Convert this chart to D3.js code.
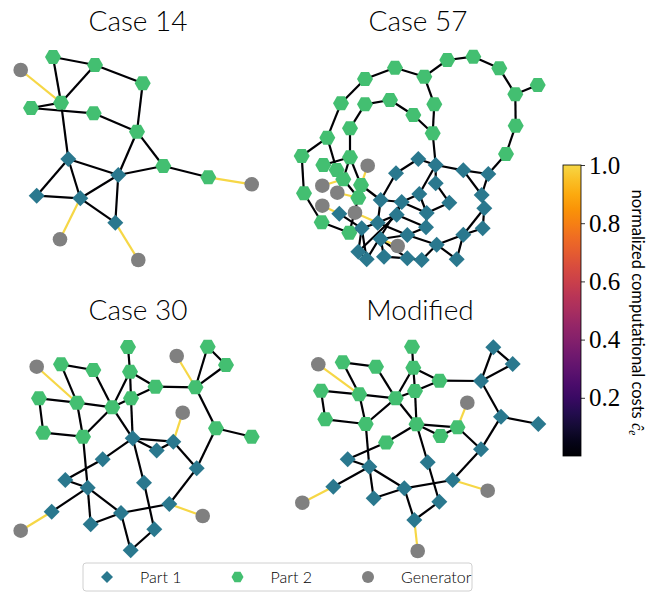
<!DOCTYPE html>
<html>
<head>
<meta charset="utf-8">
<script src="https://cdn.jsdelivr.net/npm/d3@7"></script>
<style>
  body { margin: 0; background: #fff; }
  text { font-family: Lato, "Noto Sans", sans-serif; }
</style>
</head>
<body>
<svg id="chart" width="668" height="593"></svg>
<script>
// ---------- Case 14 ----------
const c14Part1 = [["10",68.3,119],["11",118.3,135],["12",36.7,155.7],["13",80.3,158.3],["14",115.3,182.7]];
const c14Part2 = [["1",53,17],["2",95,25],["3",142.7,43.3],["4",31,68],["5",61,62.7],["6",93.7,73.3],
                  ["7",137,91.7],["8",163.3,126],["9",208.3,137.3]];
const c14Gen = [["g1",20.7,30],["g2",251.7,144.3],["g3",60,199.3],["g4",138.3,220]];
const c14Lines = [["1","5"],["1","2"],["2","5"],["2","3"],["3","7"],["4","5"],["4","6"],["6","7"],
                  ["7","8"],["7","11"],["8","11"],["8","9"],["5","10"],["10","11"],["10","12"],
                  ["10","13"],["12","13"],["13","11"],["13","14"],["11","14"]];
const c14GenLines = [["g1","5"],["g2","9"],["g3","13"],["g4","14"]];

// ---------- Case 57 ----------
const c57Part2 = [["n1",162.3,20],["n2",188.3,16.7],["n3",214.3,28.3],["n4",252.7,45],["n5",230.3,54.3],
  ["n6",230.7,85.7],["n7",221,114],["n8",139.3,36.7],["n9",110,27.7],["n10",80,39],["n11",56,63.3],
  ["n12",149.3,64.3],["n13",147.7,93.3],["n14",105,60],["n15",80,64.3],["n16",128.3,75],["n17",65,88.3],
  ["n18",42.3,97.7],["n19",16.7,116],["n20",65,117.3],["n21",38.3,125],["n22",51.7,130],["n23",58.3,139.3],
  ["n24",76,145],["n25",73.3,157.7],["n26",19,153.3],["n27",36.7,182.3],["n28",64.3,192.7]];
const c57Part1 = [["b1",133.3,119],["b2",150.7,125],["b3",178.3,130.3],["b4",203.3,134],["b5",111,133.3],
  ["b6",150.7,143.3],["b7",134.3,154],["b8",164.3,162.7],["b9",196.7,155],["b10",199.3,168.3],
  ["b11",95.7,160],["b12",116.7,162],["b13",111.7,174.7],["b14",141.7,173],["b15",54.3,173.7],
  ["b16",92.7,182.7],["b17",141,187.3],["b18",197.7,188.3],["b19",76.7,188.3],["b20",178.3,194.7],
  ["b21",122.3,195],["b22",95.7,199],["b23",151.7,204.7],["b24",73.3,211.7],["b25",81.7,219.3],
  ["b26",99,216.7],["b27",122.3,218.3],["b28",136.7,220],["b29",171.7,219.3]];
const c57Gen = [["g1",82.7,125.7],["g2",37.3,145.7],["g3",52.3,152.7],["g4",37.3,165.7],
  ["g5",70,172.7],["g6",112.7,206]];
const c57Lines = [["n1","n2"],["n2","n3"],["n3","n5"],["n4","n5"],["n5","n6"],["n6","n7"],["n7","b4"],
  ["n1","n8"],["n8","n9"],["n9","n10"],["n10","n11"],["n11","n18"],["n18","n19"],["n19","n26"],
  ["n26","n27"],["n27","n28"],["n28","b19"],["n8","n12"],["n12","n13"],["n13","b2"],["n13","n16"],
  ["n16","n14"],["n14","n15"],["n15","n17"],["n17","n20"],["n18","n22"],["n20","n21"],["n20","n23"],
  ["n20","n24"],["n22","n23"],["n23","n25"],["n25","n28"],["n24","b11"],
  ["b1","b2"],["b1","b5"],["b2","b3"],["b3","b4"],["b2","b6"],["b2","b7"],["b6","b8"],["b7","b12"],
  ["b7","b14"],["b8","b14"],["b3","b9"],["b4","b9"],["b9","b10"],["b10","b18"],["b10","b20"],
  ["b18","b20"],["b20","b23"],["b20","b29"],["b23","b29"],["b14","b17"],["b17","b21"],["b21","b23"],
  ["b23","b28"],["b12","b14"],["b13","b17"],["b5","b11"],["b11","b12"],["b12","b13"],["b11","b16"],
  ["b13","b16"],["b16","b19"],["b15","b19"],["b19","b24"],["b19","b25"],["b24","b25"],["b22","b26"],
  ["b26","b27"],["b27","b28"],["b21","b22"],["b16","b21"],["b24","b13"],["b25","b12"],["b22","b27"]];
const c57GenLines = [["g1","n24"],["g2","n23"],["g3","n25"],["g4","b15"],["g5","b16"],["g6","b22"]];

// ---------- Case 30 ----------
const c30Part2 = [["a",128,17],["b",207.7,16.7],["c",61,34.3],["d",93.3,40],["e",226,35],["f",130,41.7],
  ["g",155.5,56.7],["h",195.5,57.3],["i",39,68.3],["j",77,72.7],["k",131,68.3],["l",112.3,77.3],
  ["m",43.3,102.7],["n",83,106.7],["o",216,98.3],["p",251.7,106.7]];
const c30Part1 = [["q",132.7,108.3],["r",173.3,111.7],["s",156.7,120.5],["t",102.7,129.3],["u",196.7,138.3],
  ["v",65.3,150],["w",144,152.7],["x",87.7,157.7],["y",169.3,174],["z",51.7,181.7],["aa",121,183],
  ["bb",154.3,199.3],["cc",90.7,194.3],["dd",130.7,220.3]];
const c30Gen = [["g1",36.7,36.7],["g2",176.7,26],["g3",182.7,82.7],["g4",202.7,186],["g5",20.7,200.7]];
const gridLines = [["a","f"],["c","d"],["c","j"],["d","l"],["i","j"],["i","m"],["m","n"],["j","n"],
  ["j","l"],["n","l"],["l","f"],["l","k"],["f","k"],["k","q"],["k","g"],["f","g"],["g","h"],["h","b"],
  ["b","e"],["e","h"],["h","o"],["o","p"],["o","u"],["l","q"],["q","r"],["q","s"],["s","r"],["r","u"],
  ["q","t"],["t","v"],["q","w"],["v","x"],["n","x"],["x","z"],["x","aa"],["x","cc"],["cc","aa"],
  ["aa","y"],["aa","dd"],["w","bb"],["bb","dd"],["y","u"]];
const c30GenLines = [["g1","j"],["g2","h"],["g3","r"],["g4","y"],["g5","z"]];

// ---------- Modified ----------
const modPart2 = [["a",132,16.7],["c",62.7,32.3],["d",96,36.7],["f",133.3,37.7],["g",159.5,50.7],
  ["i",41,60.7],["j",79.3,64.3],["k",135,61],["l",115.7,68.3],["m",45.3,89.3],["n",85.7,94],
  ["q",136.5,94.2],["r",177.5,97.3],["s",160.5,106],["t",106,112.5]];
const modPart1 = [["b",213.3,17.3],["e",232.7,34],["h",201,51],["o",221,86.7],["p",258.3,94],
  ["u",201,119.3],["v",67.7,129.3],["w",147.7,132.3],["x",89.3,136.7],["y",172.7,150],["z",53.3,156.7],
  ["aa",124.3,158.3],["bb",159.3,171.7],["cc",93.7,168.3],["dd",134.3,190]];
const modGen = [["g1",38.3,34.3],["g2",187.3,72.7],["g3",207.7,160.7],["g4",22.3,172.7],["g5",137.7,221]];
const modGenLines = [["g1","j"],["g2","r"],["g3","y"],["g4","z"],["g5","dd"]];

// edge cost values (normalized): lines vs. generator connections
const lineCost = 0.0;
const genCost = 1.0;

// colorbar
const cbarTicks = [0.2, 0.4, 0.6, 0.8, 1.0];
const cbarLabel = "normalized computational costs ";

// legend
const legendItems = ["Part 1", "Part 2", "Generator"];

// ---------------------------------------------------------------
const svg = d3.select("#chart");
const COL_P1 = "#2a788e", COL_P2 = "#43bf71", COL_GEN = "#808080";
const costColor = t => d3.interpolateInferno(0.9 * t);

const panels = [
  { title: "Case 14", part1: c14Part1, part2: c14Part2, gen: c14Gen, lines: c14Lines, genLines: c14GenLines, ox: 0, oy: 40, tx: 138, ty: 31 },
  { title: "Case 57", part1: c57Part1, part2: c57Part2, gen: c57Gen, lines: c57Lines, genLines: c57GenLines, ox: 285, oy: 40, tx: 418, ty: 31 },
  { title: "Case 30", part1: c30Part1, part2: c30Part2, gen: c30Gen, lines: gridLines, genLines: c30GenLines, ox: 0, oy: 330, tx: 138, ty: 320 },
  { title: "Modified", part1: modPart1, part2: modPart2, gen: modGen, lines: gridLines, genLines: modGenLines, ox: 280, oy: 330, tx: 420, ty: 320 }
];

function hexPath(r) {
  const pts = d3.range(6).map(i => {
    const a = Math.PI / 3 * i;
    return [r * Math.cos(a), r * Math.sin(a)];
  });
  return "M" + pts.map(p => p.join(",")).join("L") + "Z";
}
function diamondPath(r) {
  return `M0,${-r}L${r},0L0,${r}L${-r},0Z`;
}

panels.forEach(p => {
  const x = d3.scaleLinear().domain([0, 280]).range([p.ox, p.ox + 280]);
  const y = d3.scaleLinear().domain([0, 240]).range([p.oy, p.oy + 240]);
  const pos = new Map();
  [...p.part1, ...p.part2, ...p.gen].forEach(([id, vx, vy]) => pos.set(id, [x(vx), y(vy)]));

  const g = svg.append("g");
  const edges = [
    ...p.lines.map(e => ({ s: e[0], t: e[1], c: lineCost })),
    ...p.genLines.map(e => ({ s: e[0], t: e[1], c: genCost }))
  ];
  g.selectAll("line.edge").data(edges).join("line")
    .attr("class", "edge")
    .attr("x1", d => pos.get(d.s)[0]).attr("y1", d => pos.get(d.s)[1])
    .attr("x2", d => pos.get(d.t)[0]).attr("y2", d => pos.get(d.t)[1])
    .attr("stroke", d => costColor(d.c))
    .attr("stroke-width", 2.2);

  g.selectAll("path.p1").data(p.part1).join("path")
    .attr("class", "p1").attr("d", diamondPath(8))
    .attr("transform", d => `translate(${x(d[1])},${y(d[2])})`)
    .attr("fill", COL_P1);
  g.selectAll("path.p2").data(p.part2).join("path")
    .attr("class", "p2").attr("d", hexPath(8))
    .attr("transform", d => `translate(${x(d[1])},${y(d[2])})`)
    .attr("fill", COL_P2);
  g.selectAll("circle.gen").data(p.gen).join("circle")
    .attr("class", "gen").attr("r", 7.3)
    .attr("cx", d => x(d[1])).attr("cy", d => y(d[2]))
    .attr("fill", COL_GEN);

  svg.append("text").attr("x", p.tx).attr("y", p.ty)
    .attr("text-anchor", "middle").attr("font-size", 28).attr("font-weight", 300).attr("fill", "#000")
    .text(p.title);
});

// ---------- colorbar ----------
const cbX = 563, cbW = 18;
const cbScale = d3.scaleLinear().domain([0, 1]).range([456, 165]);
const defs = svg.append("defs");
const grad = defs.append("linearGradient").attr("id", "cbgrad")
  .attr("x1", 0).attr("y1", 1).attr("x2", 0).attr("y2", 0);
d3.range(0, 1.0001, 0.05).forEach(t => {
  grad.append("stop").attr("offset", t).attr("stop-color", costColor(t));
});
svg.append("rect").attr("x", cbX).attr("y", cbScale(1)).attr("width", cbW)
  .attr("height", cbScale(0) - cbScale(1)).attr("fill", "url(#cbgrad)")
  .attr("stroke", "#000").attr("stroke-width", 0.8);
const cbAxis = d3.axisRight(cbScale).tickValues(cbarTicks).tickSize(4).tickFormat(d3.format(".1f"));
const axG = svg.append("g").attr("transform", `translate(${cbX + cbW},0)`).call(cbAxis);
axG.select(".domain").remove();
axG.selectAll(".tick line").attr("stroke", "#000").attr("stroke-width", 0.8);
axG.selectAll(".tick text").attr("x", 8).attr("font-size", 25)
  .style("font-family", "'Liberation Serif', serif").attr("fill", "#000");

const lab = svg.append("text")
  .attr("transform", `translate(632,${(cbScale(0) + cbScale(1)) / 2 + 2}) rotate(90)`)
  .attr("text-anchor", "middle").attr("font-size", 16.5).attr("fill", "#000");
lab.append("tspan").text(cbarLabel);
lab.append("tspan").style("font-family", "'Liberation Serif', serif").attr("font-style", "italic").text("ĉ");
lab.append("tspan").style("font-family", "'Liberation Serif', serif").attr("font-style", "italic")
  .attr("font-size", 11.5).attr("dy", 3).text("e");

// ---------- legend ----------
const lg = svg.append("g");
lg.append("rect").attr("x", 83).attr("y", 563).attr("width", 389).attr("height", 28).attr("rx", 3)
  .attr("fill", "#fff").attr("stroke", "#d0d0d0").attr("stroke-width", 1);
const legendX = d3.scalePoint().domain(legendItems).range([107, 368]);
const markerFor = [
  s => s.append("path").attr("d", diamondPath(6)).attr("fill", COL_P1),
  s => s.append("path").attr("d", hexPath(6)).attr("fill", COL_P2),
  s => s.append("circle").attr("r", 6).attr("fill", COL_GEN)
];
legendItems.forEach((name, i) => {
  const it = lg.append("g").attr("transform", `translate(${legendX(name)},577)`);
  markerFor[i](it);
  it.append("text").attr("x", 33).attr("y", 6).attr("font-size", 16).attr("font-weight", 300)
    .attr("fill", "#000").text(name);
});
</script>
</body>
</html>
